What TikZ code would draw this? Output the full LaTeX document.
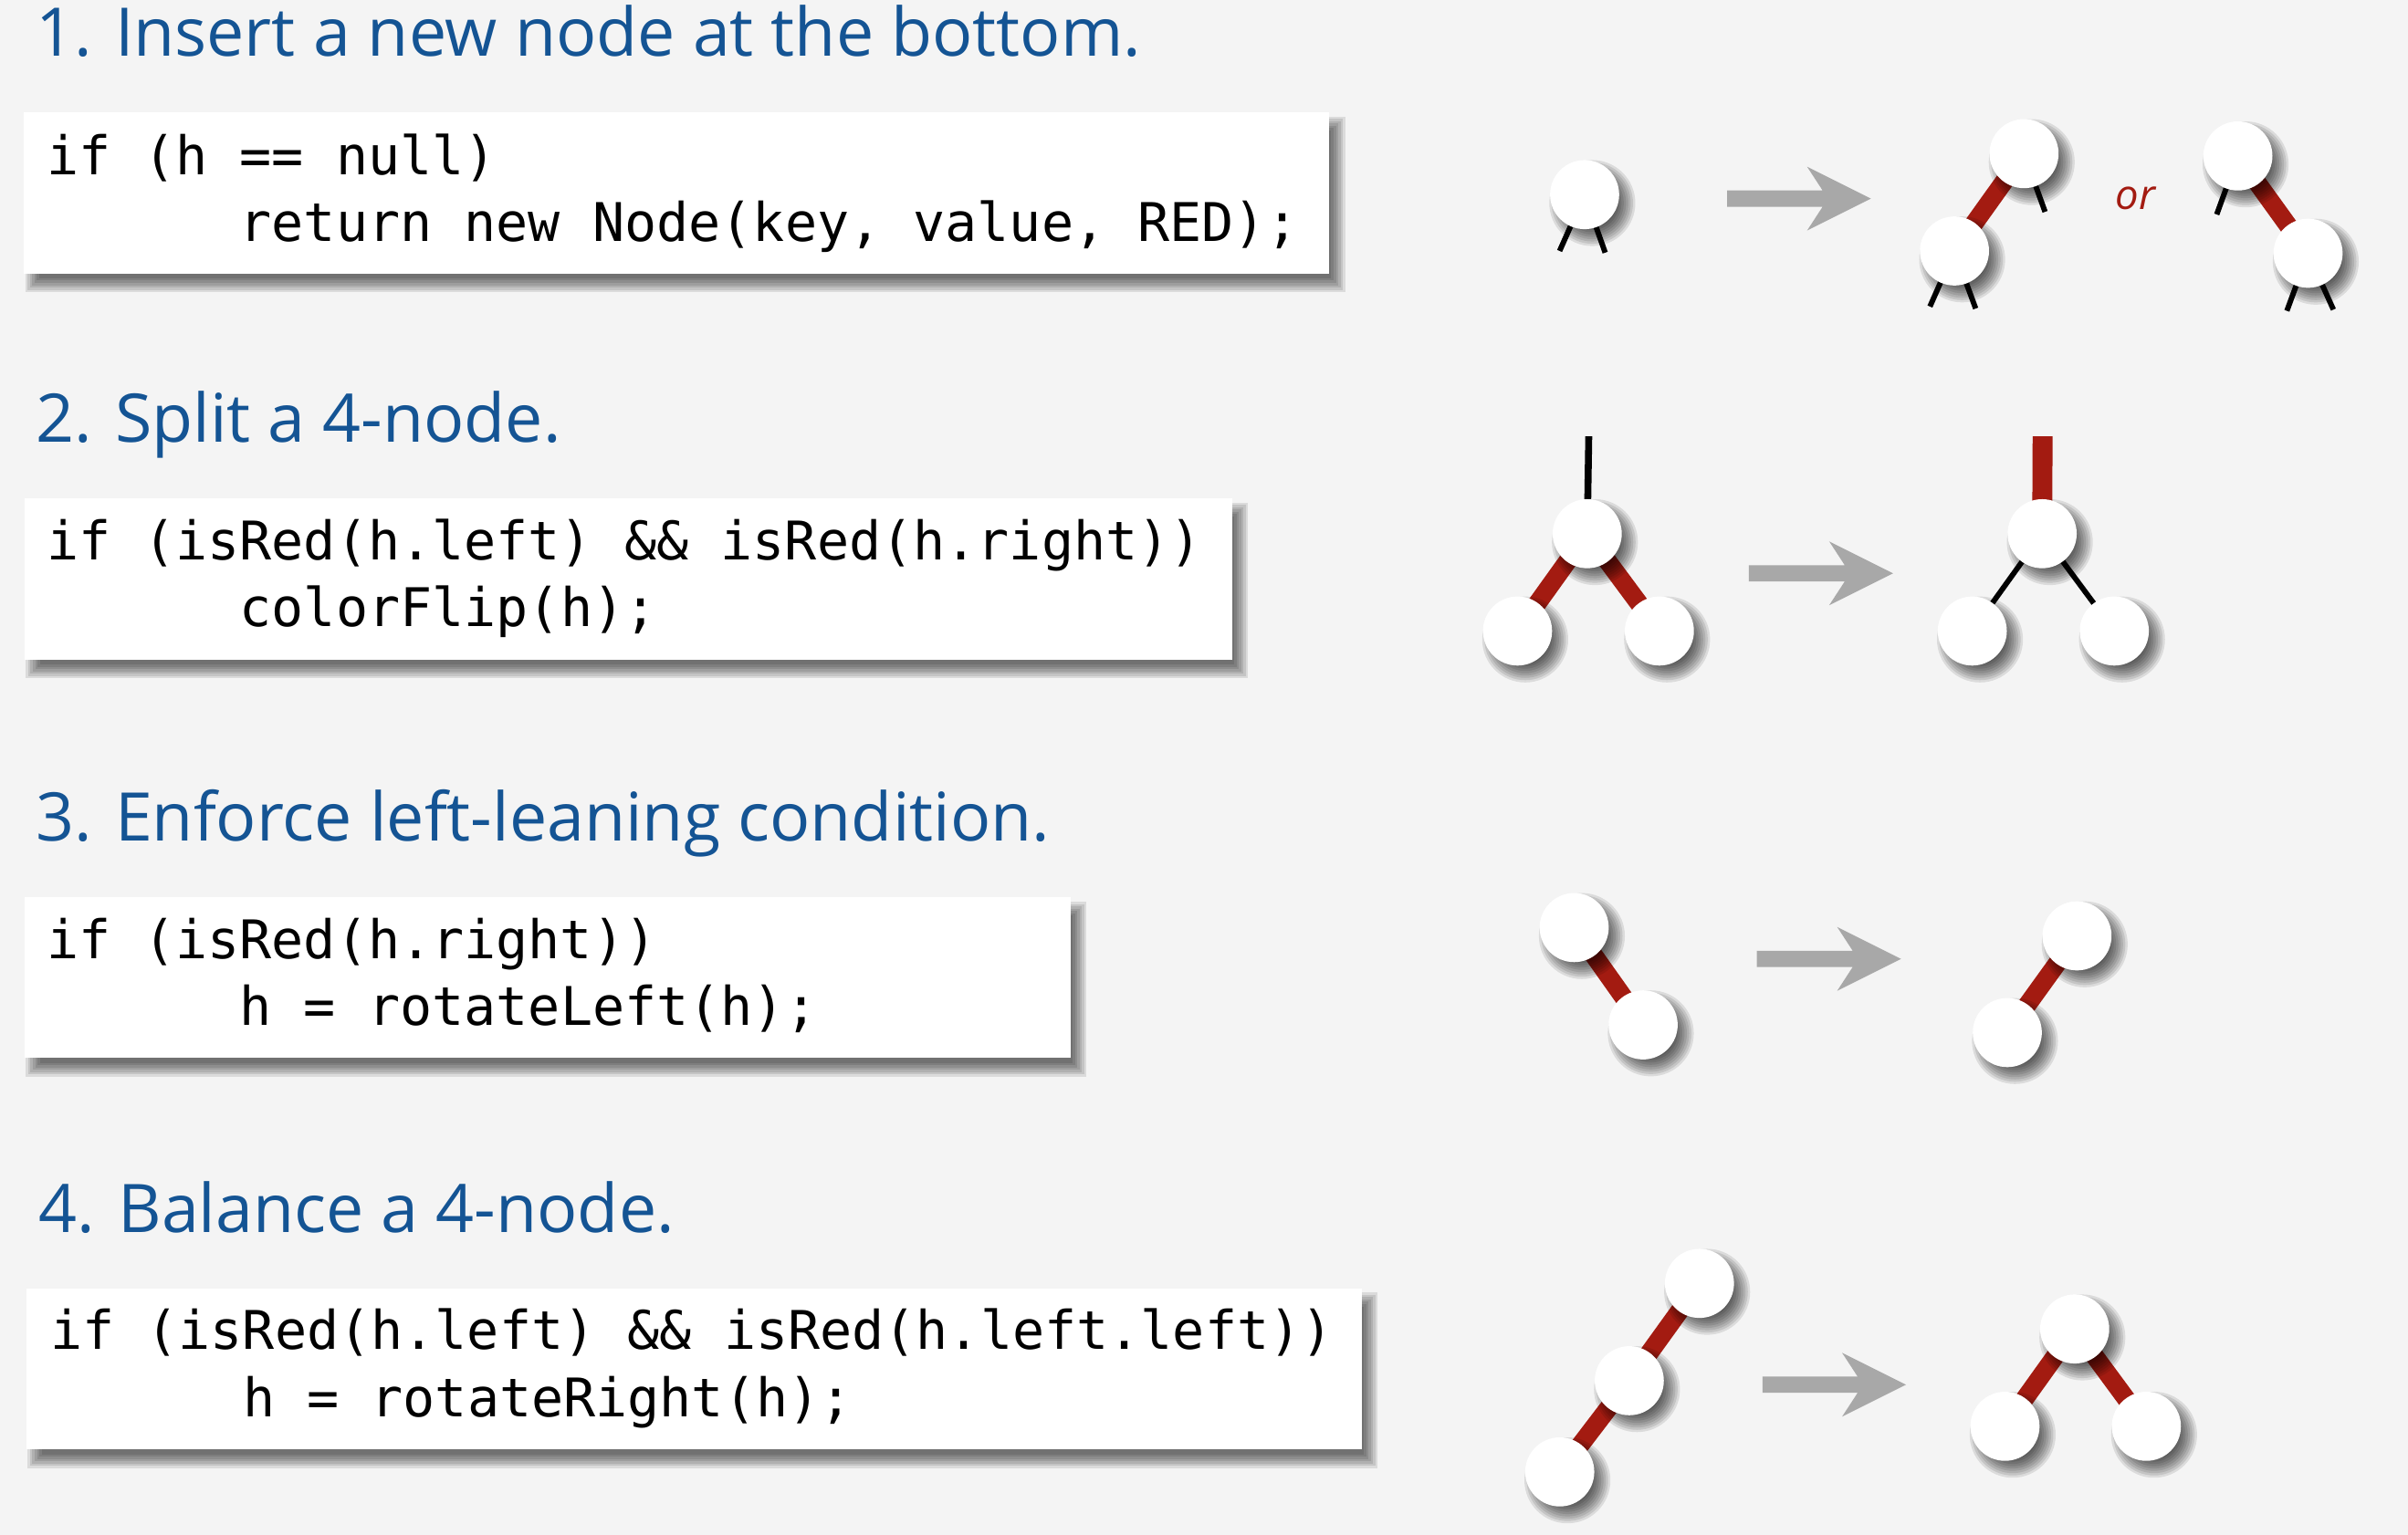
\documentclass[tikz,border=0pt]{standalone}
\usepackage{fontspec}
\newfontfamily\ttlfont{Open Sans}
\newfontfamily\cdfont{DejaVu Sans Mono}
\usetikzlibrary{calc}
\definecolor{bgc}{RGB}{244,244,244}
\definecolor{ttlblue}{RGB}{20,84,148}
\definecolor{lnkred}{RGB}{163,27,17}
\definecolor{argray}{RGB}{168,168,168}
\pgfdeclarelayer{bg}
\pgfdeclarelayer{edges}
\pgfdeclarelayer{shadows}
\pgfsetlayers{bg,edges,shadows,main}
\newcommand\grayarr[3]{\fill[argray] (#1,#3-5.3) -- (#2-31.5,#3-5.3) -- (#2-41.6,#3-20.8) -- (#2,#3) -- (#2-41.6,#3+20.8) -- (#2-31.5,#3+5.3) -- (#1,#3+5.3) -- cycle;}
\newcommand\nshadow[1]{\begin{pgfonlayer}{shadows}\foreach \r in {16,17.5,...,28.5}{\fill[black,opacity=0.1] ($(#1.center)+(5,5.5)$) circle (\r);}\end{pgfonlayer}}
\newcommand\bshadow[1]{\begin{pgfonlayer}{shadows}\foreach \d in {-4,-2.5,...,6}{\fill[black,opacity=0.1] ($(#1.north west)+(6-\d,8-\d)$) rectangle ($(#1.south east)+(5+\d,7+\d)$);}\end{pgfonlayer}}
\begin{document}
\begin{tikzpicture}[x=1pt,y=-1pt,
  ttl/.style={anchor=base west,inner sep=0,text=ttlblue,font=\ttlfont\fontsize{43.7}{50}\selectfont},
  code/.style={anchor=base west,inner sep=0,font=\cdfont\fontsize{34.7}{42}\selectfont},
  codebox/.style={fill=white,inner sep=0,anchor=north west},
  tn/.style={circle,fill=white,minimum size=45,inner sep=0},
  redlink/.style={draw=lnkred,line width=12},
  blklink/.style={draw=black,line width=3.5},
]
\begin{pgfonlayer}{bg}
\fill[bgc] (0,0) rectangle (1568.4,1000);
\end{pgfonlayer}
\useasboundingbox (0,0) rectangle (1568.4,1000);

% ---------- titles ----------
\node[ttl] (t1) at (23,36.7) {1. Insert a new node at the bottom.};
\node[ttl] (t2) at (23,288.3) {2. Split a 4-node.};
\node[ttl] (t3) at (23,547.8) {3. Enforce left-leaning condition.};
\node[ttl] (t4) at (25,802.8) {4. Balance a 4-node.};

% ---------- code boxes ----------
\node[codebox,minimum width=850.3,minimum height=105] (box1) at (15.4,72.9) {};
\node[codebox,minimum width=786.5,minimum height=105] (box2) at (15.9,324.5) {};
\node[codebox,minimum width=681.3,minimum height=104.6] (box3) at (15.9,584.5) {};
\node[codebox,minimum width=869.9,minimum height=105] (box4) at (17.1,839.1) {};
\bshadow{box1}\bshadow{box2}\bshadow{box3}\bshadow{box4}

\node[code] (c1a) at (30.6,113.9) {if (h == null)};
\node[code] (c1b) at (156,157.5) {return new Node(key, value, RED);};
\node[code] (c2a) at (30.6,364.6) {if (isRed(h.left) \&\& isRed(h.right))};
\node[code] (c2b) at (156,408.2) {colorFlip(h);};
\node[code] (c3a) at (30.6,624.5) {if (isRed(h.right))};
\node[code] (c3b) at (156,668.1) {h = rotateLeft(h);};
\node[code] (c4a) at (32.6,879.1) {if (isRed(h.left) \&\& isRed(h.left.left))};
\node[code] (c4b) at (158,922.9) {h = rotateRight(h);};

% ---------- arrows ----------
\grayarr{1125}{1218.6}{129.4}
\grayarr{1139}{1233}{373.5}
\grayarr{1144.2}{1238.2}{624.7}
\grayarr{1147.9}{1241.4}{902.1}

% ---------- section 1 trees ----------
\node[tn] (n1) at (1032.1,126.8) {};
\coordinate (n1l) at (1015.8,163.5);
\coordinate (n1r) at (1045.5,164.6);

\node[tn] (a1) at (1318.3,100.1) {};
\node[tn] (a2) at (1273,163.5) {};
\coordinate (a1r) at (1332,138);
\coordinate (a2l) at (1257,199.7);
\coordinate (a2r) at (1286.8,201);

\node[anchor=base,inner sep=0,text=lnkred,font=\ttlfont\itshape\fontsize{27}{32}\selectfont] (or) at (1391,136.7) {or};

\node[tn] (b1) at (1457.6,101.6) {};
\node[tn] (b2) at (1503.3,165) {};
\coordinate (b1l) at (1443.8,139.7);
\coordinate (b2l) at (1489.5,202.5);
\coordinate (b2r) at (1519.8,201.7);

% ---------- section 2 trees ----------
\node[tn] (s1) at (1033.8,347.7) {};
\node[tn] (s2) at (988.4,411.1) {};
\node[tn] (s3) at (1080.8,411.1) {};
\coordinate (s1u) at (1034.8,284.3);

\node[tn] (f1) at (1330.1,347.7) {};
\node[tn] (f2) at (1284.6,411.1) {};
\node[tn] (f3) at (1377.1,411.1) {};
\coordinate (f1u) at (1330.4,284.3);

% ---------- section 3 trees ----------
\node[tn] (r1) at (1025.3,604.3) {};
\node[tn] (r2) at (1070.2,667.7) {};
\node[tn] (q1) at (1352.8,609.7) {};
\node[tn] (q2) at (1307.4,672.7) {};

% ---------- section 4 trees ----------
\node[tn] (c1) at (1106.9,836.1) {};
\node[tn] (c2) at (1061.2,899.5) {};
\node[tn] (c3) at (1015.9,958.9) {};
\node[tn] (d1) at (1351.3,865.8) {};
\node[tn] (d2) at (1305.9,929.2) {};
\node[tn] (d3) at (1398,929.2) {};

\foreach \nn in {n1,a1,a2,b1,b2,s1,s2,s3,f1,f2,f3,r1,r2,q1,q2,c1,c2,c3,d1,d2,d3}{\nshadow{\nn}}

% ---------- links ----------
\begin{pgfonlayer}{edges}
\draw[blklink] (n1.center) -- (n1l);
\draw[blklink] (n1.center) -- (n1r);
\draw[redlink] (a1.center) -- (a2.center);
\draw[blklink] (a1.center) -- (a1r);
\draw[blklink] (a2.center) -- (a2l);
\draw[blklink] (a2.center) -- (a2r);
\draw[redlink] (b1.center) -- (b2.center);
\draw[blklink] (b1.center) -- (b1l);
\draw[blklink] (b2.center) -- (b2l);
\draw[blklink] (b2.center) -- (b2r);

\draw[draw=black,line width=4.5] (s1u) -- (s1.center);
\draw[redlink] (s1.center) -- (s2.center);
\draw[redlink] (s1.center) -- (s3.center);
\draw[redlink,line width=13] (f1u) -- (f1.center);
\draw[blklink] (f1.center) -- (f2.center);
\draw[blklink] (f1.center) -- (f3.center);

\draw[redlink] (r1.center) -- (r2.center);
\draw[redlink] (q1.center) -- (q2.center);

\draw[redlink] (c1.center) -- (c2.center);
\draw[redlink] (c2.center) -- (c3.center);
\draw[redlink] (d1.center) -- (d2.center);
\draw[redlink] (d1.center) -- (d3.center);
\end{pgfonlayer}
\end{tikzpicture}
\end{document}
